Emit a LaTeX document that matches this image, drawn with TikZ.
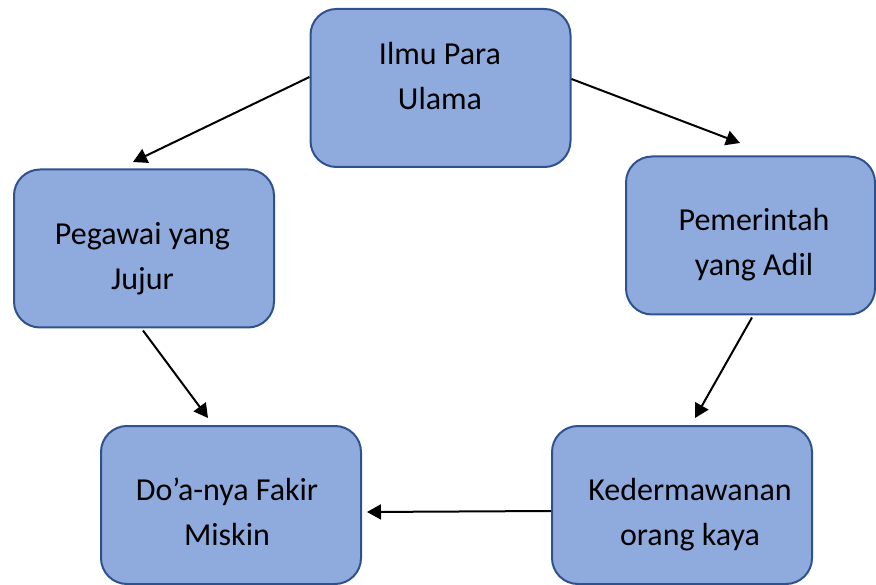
\documentclass[tikz,border=0pt]{standalone}
\usepackage{fontspec}
\setmainfont{Carlito}
\usetikzlibrary{arrows.meta}
\definecolor{boxfill}{HTML}{8FAADC}
\definecolor{boxline}{HTML}{2F528F}
\begin{document}
\begin{tikzpicture}[x=1pt,y=-1pt,
  box/.style={draw=boxline,fill=boxfill,line width=2pt,rounded corners=26pt,
    minimum width=260pt,minimum height=158pt,inner sep=0pt,shape=rectangle},
  lbl/.style={align=center,inner sep=0pt,font=\fontsize{32}{45}\selectfont},
  arr/.style={line width=2pt,-{Triangle[length=14pt,width=15pt]}}]
\useasboundingbox (0,0) rectangle (876,585);
% boxes
\node[box] (ilmu) at (440.5,88) {};
\node[box] (pegawai) at (144,248.5) {};
\node[box,minimum width=249pt] (pemerintah) at (750.5,235.5) {};
\node[box] (doa) at (231,505) {};
\node[box] (kaya) at (682,505) {};
% labels
\node[lbl] (ilmuT) at (440,78.5) {\strut Ilmu Para\\\strut Ulama};
\node[lbl] (pegawaiT) at (142.5,258) {\strut Pegawai yang\\\strut Jujur};
\node[lbl] (pemerintahT) at (754,244.5) {\strut Pemerintah\\\strut yang Adil};
\node[lbl] (doaT) at (227,513.5) {\strut Do’a-nya Fakir\\\strut Miskin};
\node[lbl] (kayaT) at (690,513.5) {\strut Kedermawanan\\\strut orang kaya};
% arrow tips
\coordinate (t1) at (133,162);
\coordinate (t2) at (740,143);
\coordinate (t3) at (208,418);
\coordinate (t4) at (695,418);
\coordinate (t5) at (367,512);
% connectors
\draw[arr] ([yshift=11pt]ilmu.west) -- (t1);
\draw[arr] ([yshift=9pt]ilmu.east) -- (t2);
\draw[arr] ([xshift=-1pt,yshift=-2pt]pegawai.south) -- (t3);
\draw[arr] ([xshift=1.5pt,yshift=-2pt]pemerintah.south) -- (t4);
\draw[arr] ([yshift=-6pt]kaya.west) -- (t5);
\end{tikzpicture}
\end{document}
